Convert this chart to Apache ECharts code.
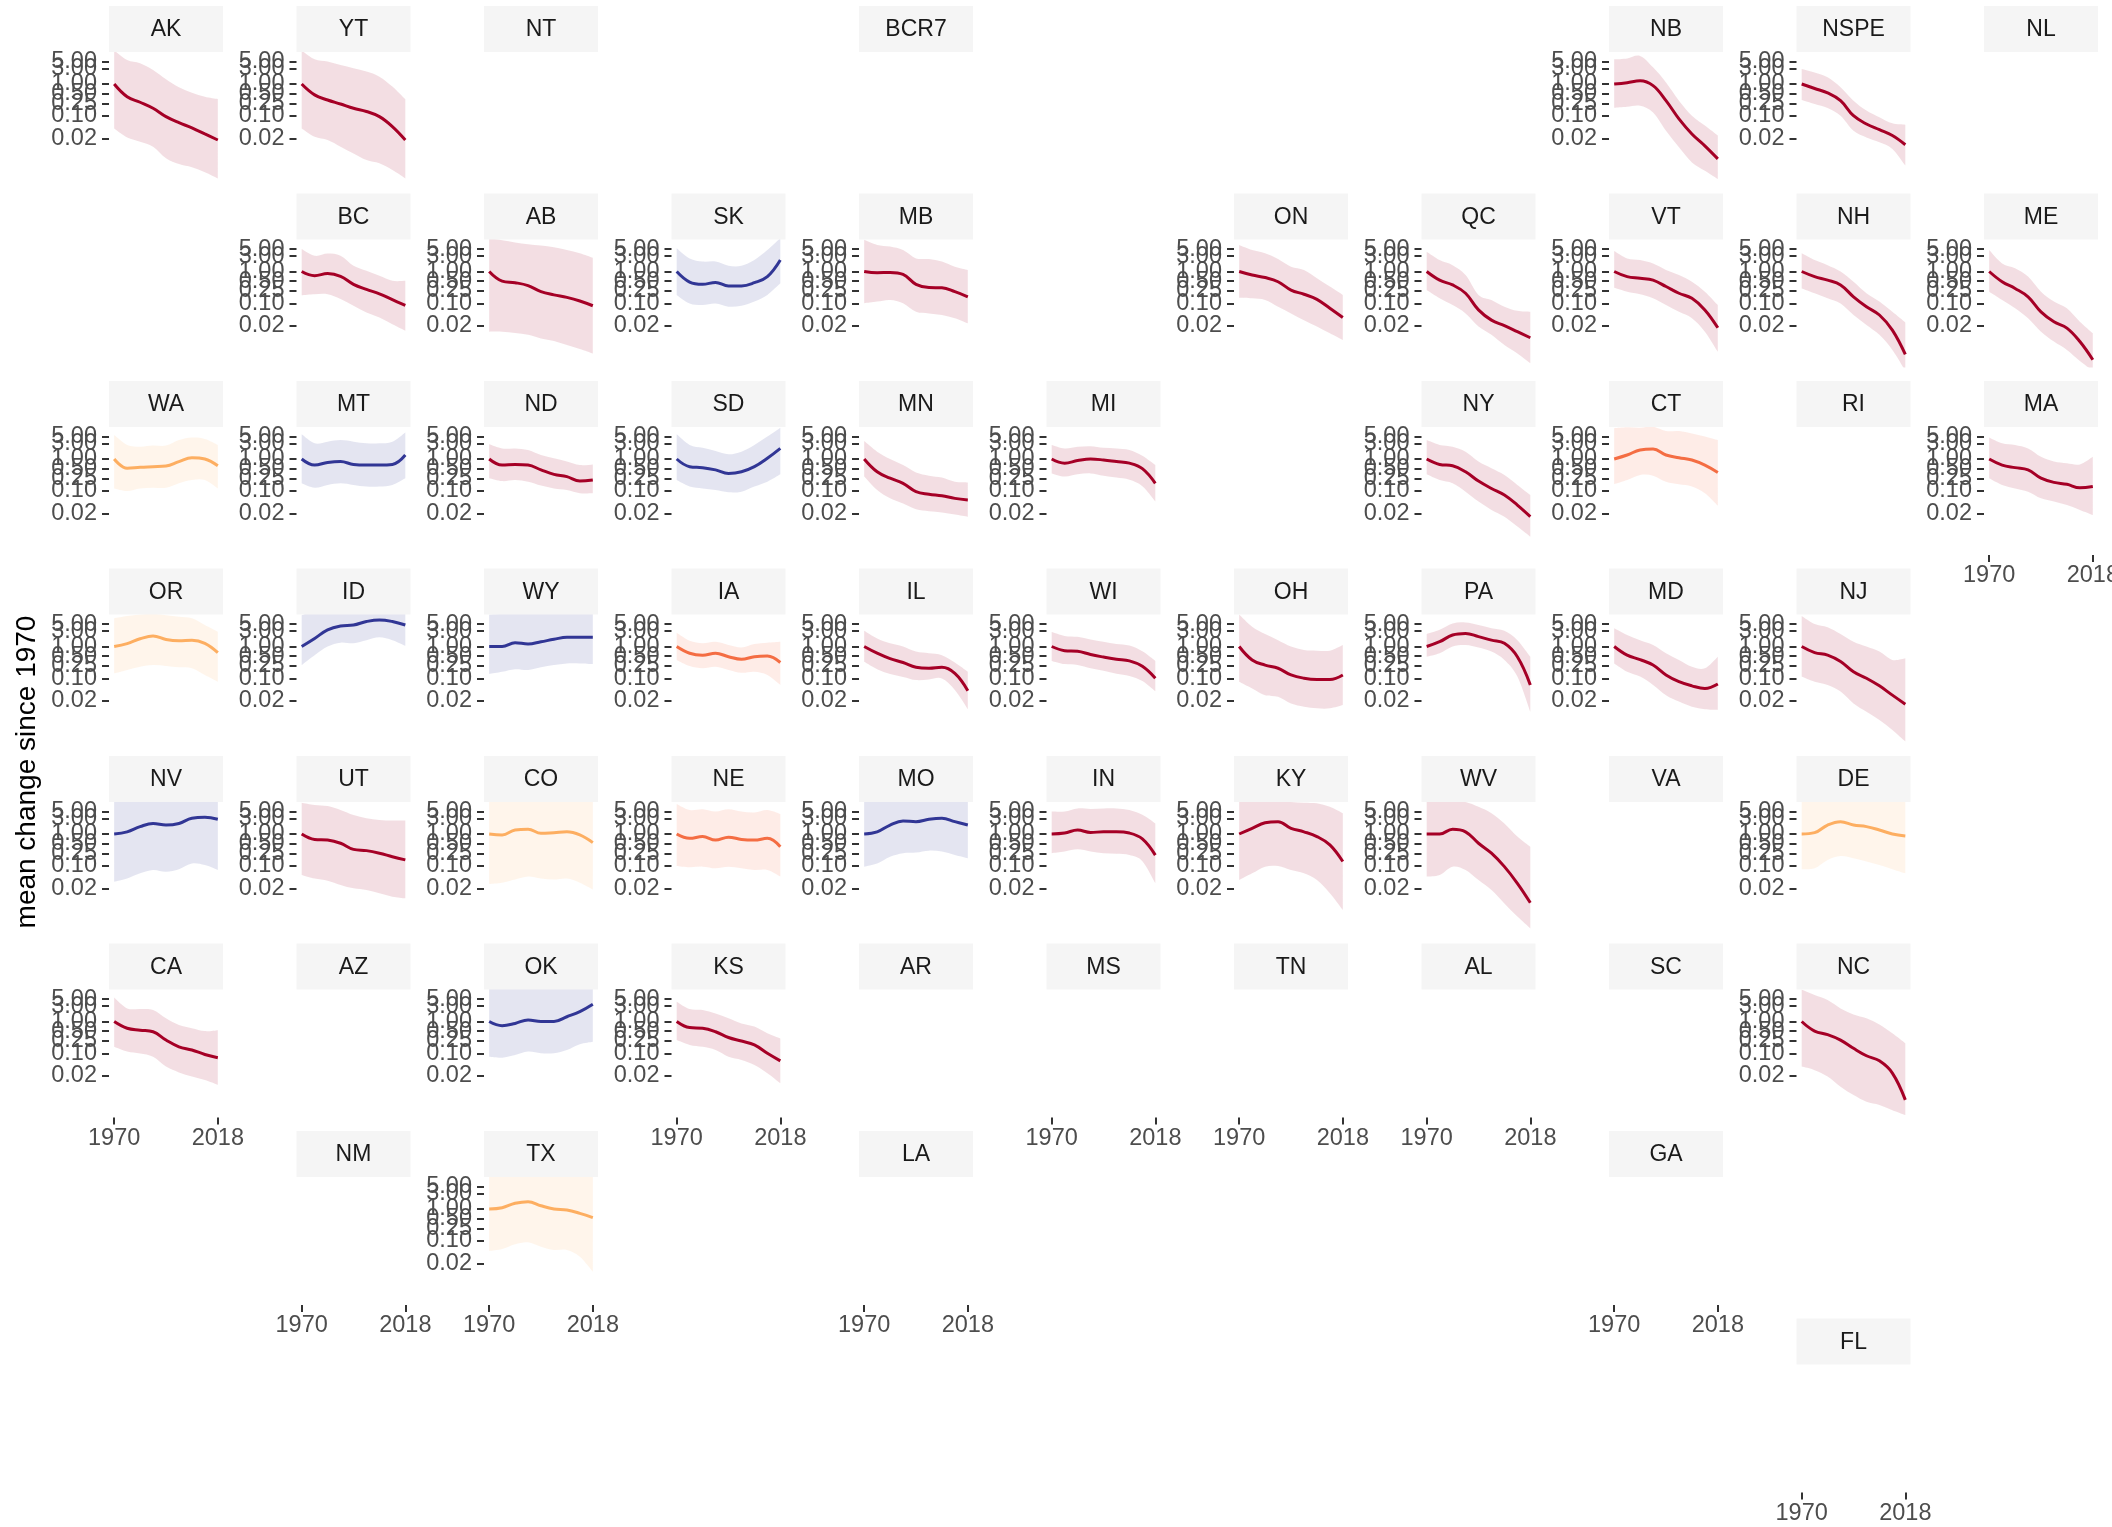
<!DOCTYPE html>
<html>
<head>
<meta charset="utf-8">
<script src="https://cdn.jsdelivr.net/npm/echarts@6/dist/echarts.min.js"></script>
<style>
  html, body { margin: 0; padding: 0; background: #ffffff; }
  #chart { width: 2112px; height: 1527px; }
</style>
</head>
<body>
<div id="chart"></div>
<script>
// Sample years for the smoothed trends
const years = [1970, 1976, 1982, 1988, 1994, 2000, 2006, 2012, 2018];
const yBreaks = [0.02, 0.1, 0.25, 0.5, 1, 3, 5];
const xBreaks = [1970, 2018];
const yTitle = 'mean change since 1970';

// Geographic tile grid: [code, row, col]
const tiles = [
  ['AK',0,0],['YT',0,1],['NT',0,2],['BCR7',0,4],['NB',0,8],['NSPE',0,9],['NL',0,10],
  ['BC',1,1],['AB',1,2],['SK',1,3],['MB',1,4],['ON',1,6],['QC',1,7],['VT',1,8],['NH',1,9],['ME',1,10],
  ['WA',2,0],['MT',2,1],['ND',2,2],['SD',2,3],['MN',2,4],['MI',2,5],['NY',2,7],['CT',2,8],['RI',2,9],['MA',2,10],
  ['OR',3,0],['ID',3,1],['WY',3,2],['IA',3,3],['IL',3,4],['WI',3,5],['OH',3,6],['PA',3,7],['MD',3,8],['NJ',3,9],
  ['NV',4,0],['UT',4,1],['CO',4,2],['NE',4,3],['MO',4,4],['IN',4,5],['KY',4,6],['WV',4,7],['VA',4,8],['DE',4,9],
  ['CA',5,0],['AZ',5,1],['OK',5,2],['KS',5,3],['AR',5,4],['MS',5,5],['TN',5,6],['AL',5,7],['SC',5,8],['NC',5,9],
  ['NM',6,1],['TX',6,2],['LA',6,4],['GA',6,8],
  ['FL',7,9]
];

// Trend groups (line colour)
const strongDecline = ['AK','YT','NB','NSPE','BC','AB','MB','ON','QC','VT','NH','ME','ND','MN','MI','NY','MA',
  'IL','WI','OH','PA','MD','NJ','UT','IN','KY','WV','CA','KS','NC'];
const moderateDecline = ['CT','IA','NE'];
const stable = ['WA','OR','CO','DE','TX'];
const increasing = ['SK','MT','SD','ID','WY','NV','MO','OK'];

// Mean change with lower / upper interval bounds
const AK_mean = [1, 0.40, 0.269, 0.174, 0.0955, 0.0617, 0.0427, 0.0275, 0.0178];
const AK_lo = [0.0407, 0.0214, 0.0158, 0.011, 0.00479, 0.00316, 0.00251, 0.00174, 0.00112];
const AK_hi = [11.2, 5.62, 4.47, 2.75, 1.41, 0.794, 0.537, 0.398, 0.339];

const YT_mean = [1, 0.457, 0.316, 0.237, 0.174, 0.138, 0.0955, 0.0468, 0.0178];
const YT_lo = [0.0407, 0.0224, 0.0178, 0.011, 0.00676, 0.00422, 0.00331, 0.00204, 0.00112];
const YT_hi = [11.2, 5.89, 5.01, 3.89, 3.09, 2.45, 1.70, 0.832, 0.331];

const NB_mean = [1, 1.10, 1.26, 0.891, 0.302, 0.0813, 0.0275, 0.0117, 0.00457];
const NB_lo = [0.182, 0.195, 0.209, 0.129, 0.0347, 0.0105, 0.00355, 0.00195, 0.00107];
const NB_hi = [5.89, 6.31, 7.50, 3.31, 1.12, 0.302, 0.102, 0.0501, 0.0245];

const NSPE_mean = [1, 0.724, 0.525, 0.302, 0.102, 0.0562, 0.0372, 0.0245, 0.0126];
const NSPE_lo = [0.316, 0.237, 0.178, 0.102, 0.0347, 0.0214, 0.0151, 0.00933, 0.00282];
const NSPE_hi = [2.95, 2.29, 1.62, 0.794, 0.302, 0.148, 0.0912, 0.0589, 0.0537];

const BC_mean = [1, 0.741, 0.861, 0.708, 0.398, 0.275, 0.200, 0.132, 0.0871];
const BC_lo = [0.182, 0.195, 0.195, 0.138, 0.0851, 0.0525, 0.0363, 0.0224, 0.0141];
const BC_hi = [5.01, 3.09, 3.63, 3.09, 1.51, 1.05, 0.733, 0.513, 0.513];

const AB_mean = [1, 0.501, 0.447, 0.363, 0.234, 0.186, 0.155, 0.120, 0.0851];
const AB_lo = [0.0132, 0.0132, 0.012, 0.0105, 0.00813, 0.00676, 0.00501, 0.0038, 0.00275];
const AB_hi = [11.0, 9.55, 8.13, 7.08, 6.46, 5.75, 4.68, 3.72, 2.69];

const SK_mean = [1, 0.468, 0.398, 0.457, 0.355, 0.355, 0.447, 0.692, 2.29];
const SK_lo = [0.186, 0.100, 0.0891, 0.100, 0.0794, 0.0851, 0.115, 0.186, 0.427];
const SK_hi = [5.37, 2.57, 2.04, 2.04, 1.51, 1.51, 2.29, 4.68, 11.0];

const MB_mean = [1, 0.912, 0.933, 0.813, 0.398, 0.316, 0.309, 0.234, 0.162];
const MB_lo = [0.102, 0.115, 0.129, 0.102, 0.055, 0.049, 0.0437, 0.0347, 0.024];
const MB_hi = [9.77, 6.76, 6.03, 4.68, 2.57, 2.45, 2.04, 1.41, 1.12];

const ON_mean = [1, 0.776, 0.646, 0.479, 0.263, 0.195, 0.135, 0.0708, 0.0363];
const ON_lo = [0.151, 0.145, 0.129, 0.0794, 0.049, 0.0302, 0.0191, 0.0117, 0.00724];
const ON_hi = [6.76, 4.68, 3.72, 2.45, 1.41, 1.12, 0.617, 0.339, 0.186];

const QC_mean = [1, 0.537, 0.380, 0.209, 0.0631, 0.0302, 0.0204, 0.0132, 0.00851];
const QC_lo = [0.263, 0.145, 0.0891, 0.049, 0.0191, 0.0105, 0.00501, 0.00275, 0.00135];
const QC_hi = [4.17, 2.29, 1.58, 0.776, 0.186, 0.129, 0.0794, 0.0589, 0.055];

const VT_mean = [1, 0.692, 0.617, 0.537, 0.339, 0.209, 0.145, 0.0631, 0.0174];
const VT_lo = [0.309, 0.234, 0.195, 0.145, 0.0891, 0.055, 0.0347, 0.0132, 0.00309];
const VT_hi = [4.37, 2.57, 2.29, 1.78, 1.12, 0.776, 0.479, 0.234, 0.0891];

const NH_mean = [1, 0.692, 0.537, 0.380, 0.162, 0.0794, 0.0437, 0.0148, 0.00257];
const NH_lo = [0.295, 0.209, 0.145, 0.1, 0.0437, 0.0214, 0.0105, 0.00355, 0.0008];
const NH_hi = [3.72, 2.29, 1.58, 1.0, 0.479, 0.209, 0.115, 0.055, 0.0257];

const ME_mean = [1, 0.479, 0.295, 0.162, 0.055, 0.0269, 0.017, 0.00646, 0.00174];
const ME_lo = [0.234, 0.129, 0.0708, 0.0347, 0.0132, 0.00646, 0.00355, 0.0016, 0.0008];
const ME_hi = [4.68, 1.78, 1.26, 0.692, 0.234, 0.115, 0.0708, 0.0269, 0.0117];

const WA_mean = [1, 0.513, 0.550, 0.575, 0.603, 0.832, 1.10, 1.0, 0.617];
const WA_lo = [0.120, 0.100, 0.120, 0.126, 0.126, 0.174, 0.219, 0.219, 0.120];
const WA_hi = [5.62, 2.75, 2.43, 2.63, 2.63, 3.89, 4.68, 4.22, 2.75];

const MT_mean = [1, 0.646, 0.776, 0.832, 0.676, 0.646, 0.646, 0.676, 1.33];
const MT_lo = [0.174, 0.126, 0.155, 0.174, 0.155, 0.138, 0.138, 0.155, 0.251];
const MT_hi = [5.89, 3.09, 3.47, 3.89, 3.47, 3.09, 3.09, 3.47, 6.76];

const ND_mean = [1, 0.646, 0.676, 0.646, 0.457, 0.331, 0.282, 0.204, 0.219];
const ND_lo = [0.251, 0.204, 0.219, 0.195, 0.148, 0.120, 0.107, 0.0851, 0.0851];
const ND_hi = [2.88, 2.14, 2.14, 1.91, 1.33, 1.05, 0.832, 0.646, 0.676];

const SD_mean = [1, 0.575, 0.537, 0.457, 0.355, 0.398, 0.575, 1.05, 2.14];
const SD_lo = [0.219, 0.138, 0.120, 0.107, 0.0912, 0.0955, 0.138, 0.195, 0.331];
const SD_hi = [5.89, 2.75, 2.24, 1.78, 1.41, 1.70, 2.75, 5.01, 9.55];

const MN_mean = [1, 0.398, 0.251, 0.174, 0.0955, 0.0794, 0.0708, 0.0589, 0.0525];
const MN_lo = [0.282, 0.107, 0.0589, 0.0407, 0.0269, 0.0234, 0.0214, 0.0186, 0.0158];
const MN_hi = [3.63, 1.70, 1.0, 0.646, 0.380, 0.302, 0.263, 0.195, 0.186];

const MI_mean = [1, 0.741, 0.891, 1.0, 0.933, 0.832, 0.741, 0.501, 0.174];
const MI_lo = [0.355, 0.282, 0.331, 0.355, 0.302, 0.263, 0.224, 0.141, 0.0468];
const MI_hi = [2.75, 2.14, 2.40, 2.51, 2.24, 2.14, 1.91, 1.26, 0.646];

const NY_mean = [1, 0.676, 0.617, 0.398, 0.204, 0.120, 0.075, 0.0363, 0.0158];
const NY_lo = [0.331, 0.219, 0.174, 0.0955, 0.0468, 0.0257, 0.0158, 0.00776, 0.00372];
const NY_hi = [3.89, 2.75, 2.43, 1.70, 0.832, 0.513, 0.316, 0.155, 0.075];

const CT_mean = [1, 1.33, 1.91, 2.04, 1.33, 1.10, 0.933, 0.646, 0.380];
const CT_lo = [0.162, 0.219, 0.316, 0.302, 0.195, 0.162, 0.138, 0.0851, 0.0347];
const CT_hi = [9.12, 9.77, 9.55, 10.2, 7.50, 7.50, 6.31, 5.01, 3.89];

const MA_mean = [1, 0.646, 0.537, 0.457, 0.251, 0.186, 0.162, 0.126, 0.138];
const MA_lo = [0.251, 0.155, 0.120, 0.0955, 0.0589, 0.0468, 0.0363, 0.0257, 0.0178];
const MA_hi = [4.68, 3.09, 2.75, 2.14, 1.17, 0.832, 0.733, 0.676, 1.17];

const OR_mean = [1, 1.23, 1.74, 2.14, 1.66, 1.51, 1.58, 1.26, 0.646];
const OR_lo = [0.145, 0.186, 0.234, 0.263, 0.245, 0.224, 0.209, 0.129, 0.0794];
const OR_hi = [7.59, 8.91, 10, 10.5, 9.55, 8.51, 7.59, 4.68, 2.88];

const ID_mean = [1, 1.78, 3.31, 4.37, 4.68, 6.03, 6.76, 6.03, 4.68];
const ID_lo = [0.263, 0.537, 1.0, 1.32, 1.26, 1.58, 1.95, 1.58, 1.05];
const ID_hi = [9.55, 12.6, 12.6, 12.6, 12.6, 12.6, 12.6, 12.6, 12.6];

const WY_mean = [1, 1.0, 1.32, 1.20, 1.41, 1.68, 1.95, 1.95, 1.95];
const WY_lo = [0.138, 0.162, 0.195, 0.186, 0.224, 0.263, 0.295, 0.295, 0.282];
const WY_hi = [10, 10.5, 11.2, 11.2, 11.2, 11.2, 11.2, 11.2, 11.2];

const IA_mean = [1, 0.617, 0.537, 0.617, 0.479, 0.398, 0.479, 0.501, 0.316];
const IA_lo = [0.380, 0.245, 0.209, 0.234, 0.186, 0.151, 0.162, 0.129, 0.0631];
const IA_hi = [2.69, 1.51, 1.26, 1.41, 1.12, 0.933, 1.20, 1.32, 1.41];

const IL_mean = [1, 0.617, 0.417, 0.316, 0.224, 0.209, 0.224, 0.145, 0.0417];
const IL_lo = [0.331, 0.195, 0.138, 0.112, 0.0891, 0.0933, 0.1, 0.0437, 0.011];
const IL_hi = [3.09, 1.78, 1.26, 1.0, 0.692, 0.617, 0.537, 0.316, 0.162];

const WI_mean = [1, 0.741, 0.708, 0.562, 0.468, 0.398, 0.355, 0.240, 0.102];
const WI_lo = [0.355, 0.282, 0.263, 0.209, 0.174, 0.141, 0.120, 0.0832, 0.0398];
const WI_hi = [2.82, 2.14, 2.0, 1.66, 1.41, 1.20, 1.07, 0.708, 0.355];

const OH_mean = [1, 0.380, 0.263, 0.209, 0.129, 0.102, 0.0933, 0.0933, 0.129];
const OH_lo = [0.0794, 0.049, 0.0302, 0.0269, 0.0166, 0.0132, 0.0117, 0.0117, 0.0148];
const OH_hi = [10, 4.17, 2.45, 1.58, 1.0, 0.776, 0.741, 0.741, 1.12];

const PA_mean = [1, 1.41, 2.29, 2.57, 2.04, 1.58, 1.26, 0.479, 0.0631];
const PA_lo = [0.479, 0.617, 1.0, 1.12, 0.933, 0.692, 0.380, 0.115, 0.00912];
const PA_hi = [2.45, 3.31, 5.25, 5.62, 4.68, 3.72, 3.09, 1.58, 0.479];

const MD_mean = [1, 0.537, 0.389, 0.263, 0.129, 0.0794, 0.0589, 0.049, 0.0676];
const MD_lo = [0.295, 0.162, 0.115, 0.0631, 0.0302, 0.0191, 0.0132, 0.011, 0.0105];
const MD_hi = [3.72, 2.29, 1.58, 1.12, 0.617, 0.380, 0.234, 0.209, 0.479];

const NJ_mean = [1, 0.646, 0.537, 0.339, 0.162, 0.102, 0.0589, 0.0302, 0.0158];
const NJ_lo = [0.115, 0.0794, 0.0631, 0.0389, 0.0166, 0.00912, 0.00501, 0.00245, 0.00107];
const NJ_hi = [8.91, 5.01, 3.98, 2.45, 1.41, 1.0, 0.692, 0.380, 0.427];

const NV_mean = [1, 1.17, 1.70, 2.14, 1.91, 2.14, 3.09, 3.31, 2.88];
const NV_lo = [0.0324, 0.0407, 0.0589, 0.075, 0.0661, 0.0794, 0.120, 0.107, 0.075];
const NV_hi = [10, 10.5, 11.2, 11.2, 11.2, 11.2, 11.2, 11.2, 11.2];

const UT_mean = [1, 0.676, 0.646, 0.513, 0.331, 0.302, 0.251, 0.195, 0.155];
const UT_lo = [0.0525, 0.0407, 0.0347, 0.0257, 0.02, 0.0178, 0.0141, 0.011, 0.00977];
const UT_hi = [9.55, 8.13, 7.50, 5.62, 3.89, 3.09, 2.75, 2.63, 2.63];

const CO_mean = [1, 0.933, 1.33, 1.41, 1.05, 1.10, 1.17, 0.933, 0.537];
const CO_lo = [0.0275, 0.0302, 0.038, 0.0468, 0.0407, 0.038, 0.0407, 0.0302, 0.0186];
const CO_hi = [11.2, 11.2, 11.2, 11.2, 11.2, 11.2, 11.2, 11.2, 11.2];

const NE_mean = [1, 0.733, 0.832, 0.646, 0.794, 0.676, 0.646, 0.733, 0.398];
const NE_lo = [0.1, 0.0912, 0.0955, 0.0851, 0.0955, 0.0851, 0.075, 0.075, 0.0468];
const NE_hi = [8.71, 5.62, 5.89, 5.01, 5.89, 5.01, 4.68, 5.62, 4.22];

const MO_mean = [1, 1.17, 1.91, 2.57, 2.43, 2.88, 3.09, 2.43, 1.91];
const MO_lo = [0.0955, 0.120, 0.195, 0.251, 0.263, 0.302, 0.282, 0.219, 0.174];
const MO_hi = [11.2, 11.2, 11.2, 11.2, 11.2, 11.2, 11.2, 11.2, 11.2];

const IN_mean = [1, 1.07, 1.33, 1.12, 1.17, 1.17, 1.07, 0.708, 0.219];
const IN_lo = [0.251, 0.282, 0.331, 0.282, 0.251, 0.240, 0.219, 0.141, 0.0288];
const IN_hi = [5.01, 5.01, 6.31, 6.03, 6.31, 6.31, 5.62, 3.98, 2.14];

const KY_mean = [1, 1.51, 2.24, 2.43, 1.51, 1.17, 0.832, 0.457, 0.138];
const KY_lo = [0.0363, 0.0589, 0.0955, 0.1, 0.075, 0.0589, 0.0363, 0.0141, 0.00422];
const KY_hi = [11.2, 11.2, 11.2, 11.2, 10, 9.55, 9.12, 7.08, 4.47];

const WV_mean = [1, 1, 1.41, 1.17, 0.513, 0.251, 0.0955, 0.0288, 0.00708];
const WV_lo = [0.0468, 0.0525, 0.0955, 0.075, 0.0363, 0.0178, 0.00676, 0.00263, 0.00112];
const WV_hi = [11.2, 11.2, 11.2, 10, 7.08, 4.47, 2.14, 0.832, 0.398];

const DE_mean = [1, 1.10, 1.91, 2.43, 1.91, 1.70, 1.33, 1.0, 0.871];
const DE_lo = [0.0794, 0.0851, 0.155, 0.204, 0.174, 0.138, 0.107, 0.0794, 0.0589];
const DE_hi = [11.2, 11.2, 11.2, 11.2, 11.2, 11.2, 11.2, 11.2, 11.2];

const CA_mean = [1, 0.617, 0.537, 0.479, 0.263, 0.162, 0.129, 0.0933, 0.0741];
const CA_lo = [0.162, 0.115, 0.1, 0.0794, 0.0389, 0.0257, 0.0191, 0.0148, 0.0105];
const CA_hi = [5.62, 2.57, 2.45, 2.29, 1.26, 0.776, 0.617, 0.501, 0.537];

const OK_mean = [1, 0.741, 0.871, 1.12, 1.0, 1.0, 1.41, 2.04, 3.47];
const OK_lo = [0.0794, 0.0741, 0.0891, 0.115, 0.102, 0.102, 0.129, 0.195, 0.234];
const OK_hi = [11.2, 11.2, 11.2, 11.2, 11.2, 11.2, 11.2, 11.2, 11.2];

const KS_mean = [1, 0.646, 0.617, 0.479, 0.316, 0.245, 0.186, 0.102, 0.0589];
const KS_lo = [0.263, 0.186, 0.162, 0.129, 0.0794, 0.0631, 0.0437, 0.024, 0.0117];
const KS_hi = [4.17, 2.45, 2.29, 1.78, 1.26, 0.871, 0.692, 0.427, 0.295];

const NC_mean = [1, 0.501, 0.389, 0.263, 0.145, 0.0851, 0.0589, 0.0245, 0.00355];
const NC_lo = [0.0389, 0.0302, 0.0191, 0.00912, 0.00501, 0.00309, 0.00245, 0.0017, 0.0012];
const NC_hi = [10, 6.76, 4.68, 2.57, 1.66, 1.26, 0.813, 0.427, 0.209];

const TX_mean = [1, 1.10, 1.51, 1.70, 1.26, 1.0, 0.933, 0.733, 0.537];
const TX_lo = [0.049, 0.0562, 0.0794, 0.0912, 0.0661, 0.0525, 0.0525, 0.0324, 0.011];
const TX_hi = [11.2, 11.2, 11.2, 11.2, 11.2, 11.2, 11.2, 11.2, 11.2];

// Lookup: code -> [mean, lower, upper]
const trends = {
  AK: [AK_mean, AK_lo, AK_hi], YT: [YT_mean, YT_lo, YT_hi], NB: [NB_mean, NB_lo, NB_hi],
  NSPE: [NSPE_mean, NSPE_lo, NSPE_hi], BC: [BC_mean, BC_lo, BC_hi], AB: [AB_mean, AB_lo, AB_hi],
  SK: [SK_mean, SK_lo, SK_hi], MB: [MB_mean, MB_lo, MB_hi], ON: [ON_mean, ON_lo, ON_hi],
  QC: [QC_mean, QC_lo, QC_hi], VT: [VT_mean, VT_lo, VT_hi], NH: [NH_mean, NH_lo, NH_hi],
  ME: [ME_mean, ME_lo, ME_hi], WA: [WA_mean, WA_lo, WA_hi], MT: [MT_mean, MT_lo, MT_hi],
  ND: [ND_mean, ND_lo, ND_hi], SD: [SD_mean, SD_lo, SD_hi], MN: [MN_mean, MN_lo, MN_hi],
  MI: [MI_mean, MI_lo, MI_hi], NY: [NY_mean, NY_lo, NY_hi], CT: [CT_mean, CT_lo, CT_hi],
  MA: [MA_mean, MA_lo, MA_hi], OR: [OR_mean, OR_lo, OR_hi], ID: [ID_mean, ID_lo, ID_hi],
  WY: [WY_mean, WY_lo, WY_hi], IA: [IA_mean, IA_lo, IA_hi], IL: [IL_mean, IL_lo, IL_hi],
  WI: [WI_mean, WI_lo, WI_hi], OH: [OH_mean, OH_lo, OH_hi], PA: [PA_mean, PA_lo, PA_hi],
  MD: [MD_mean, MD_lo, MD_hi], NJ: [NJ_mean, NJ_lo, NJ_hi], NV: [NV_mean, NV_lo, NV_hi],
  UT: [UT_mean, UT_lo, UT_hi], CO: [CO_mean, CO_lo, CO_hi], NE: [NE_mean, NE_lo, NE_hi],
  MO: [MO_mean, MO_lo, MO_hi], IN: [IN_mean, IN_lo, IN_hi], KY: [KY_mean, KY_lo, KY_hi],
  WV: [WV_mean, WV_lo, WV_hi], DE: [DE_mean, DE_lo, DE_hi], CA: [CA_mean, CA_lo, CA_hi],
  OK: [OK_mean, OK_lo, OK_hi], KS: [KS_mean, KS_lo, KS_hi], NC: [NC_mean, NC_lo, NC_hi],
  TX: [TX_mean, TX_lo, TX_hi]
};

function colourFor(code) {
  if (increasing.includes(code)) return '#313695';
  if (stable.includes(code)) return '#FDAE61';
  if (moderateDecline.includes(code)) return '#F46D43';
  return '#A50026';
}

// Layout of the tile grid (pixels)
const FONT = '"Liberation Sans", Arial, Helvetica, sans-serif';
const CELL = 187.5, LEFT0 = 109, TOP0 = 6;
const PANEL_W = 114, STRIP_H = 46, PANEL_H = 128;
const TICK_FONT = 23.5;

// Tick labels overlap on purpose; they are spread over three left-hand axes so
// that none of them is dropped by the min/max label check.
const yBreakGroups = [[0.02, 0.25, 3], [0.1, 1], [0.5, 5]];

// the lowest tile in each column carries the year axis
const bottomRow = {};
tiles.forEach(([code, r, c]) => { if (bottomRow[c] === undefined || r > bottomRow[c]) bottomRow[c] = r; });

// Smooth closed outline through the upper bound, then back along the lower bound
function curveTo(pts) {
  let d = '';
  for (let i = 0; i < pts.length - 1; i++) {
    const p0 = pts[Math.max(i - 1, 0)], p1 = pts[i], p2 = pts[i + 1], p3 = pts[Math.min(i + 2, pts.length - 1)];
    const c1x = p1[0] + (p2[0] - p0[0]) / 6, c1y = p1[1] + (p2[1] - p0[1]) / 6;
    const c2x = p2[0] - (p3[0] - p1[0]) / 6, c2y = p2[1] - (p3[1] - p1[1]) / 6;
    d += ' C' + c1x + ' ' + c1y + ' ' + c2x + ' ' + c2y + ' ' + p2[0] + ' ' + p2[1];
  }
  return d;
}
function bandRenderer(lo, hi, colour) {
  return function (params, api) {
    const up = years.map((y, k) => api.coord([y, hi[k]]));
    const dn = years.map((y, k) => api.coord([y, lo[k]])).reverse();
    const d = 'M' + up[0][0] + ' ' + up[0][1] + curveTo(up) +
      ' L' + dn[0][0] + ' ' + dn[0][1] + curveTo(dn) + ' Z';
    return { type: 'path', shape: { pathData: d }, style: { fill: colour, opacity: 0.13, stroke: null } };
  };
}

const option = {
  animation: false,
  backgroundColor: '#ffffff',
  grid: [], xAxis: [], yAxis: [], series: [], graphic: []
};

let gi = 0, yi = 0;
tiles.forEach(([code, r, c]) => {
  const x0 = LEFT0 + c * CELL;
  const y0 = TOP0 + r * CELL;

  // strip with the region code
  option.graphic.push({
    type: 'rect', silent: true,
    shape: { x: x0, y: y0, width: PANEL_W, height: STRIP_H },
    style: { fill: '#F5F5F5' }
  });
  option.graphic.push({
    type: 'text', silent: true,
    x: x0 + PANEL_W / 2, y: y0 + STRIP_H / 2 + 1,
    style: { text: code, align: 'center', verticalAlign: 'middle', fontSize: 23, fontFamily: FONT, fill: '#1A1A1A' }
  });

  const data = trends[code];
  const showX = bottomRow[c] === r;
  if (!data && !showX) return;

  option.grid.push({
    left: x0, top: y0 + STRIP_H, width: PANEL_W, height: PANEL_H,
    containLabel: false, outerBoundsMode: 'none', show: false
  });
  option.xAxis.push({
    gridIndex: gi, type: 'value', position: 'bottom', min: 1967.6, max: 2020.4,
    axisLine: { show: false }, splitLine: { show: false },
    axisTick: { show: showX, length: 7, customValues: xBreaks, lineStyle: { color: '#333333', width: 2 } },
    axisLabel: {
      show: showX, customValues: xBreaks, margin: 9, fontSize: TICK_FONT, fontFamily: FONT, color: '#4D4D4D',
      showMinLabel: true, showMaxLabel: true, hideOverlap: false,
      formatter: v => String(Math.round(v))
    }
  });
  const mainY = yi;
  yBreakGroups.forEach(group => {
    option.yAxis.push({
      gridIndex: gi, type: 'log', logBase: 10, min: 0.001, max: 10,
      position: 'left', offset: 0,
      axisLine: { show: false }, splitLine: { show: false },
      axisTick: { show: !!data, length: 7, customValues: group, lineStyle: { color: '#333333', width: 2 } },
      axisLabel: {
        show: !!data, customValues: group, margin: 12, fontSize: TICK_FONT, fontFamily: FONT, color: '#4D4D4D',
        showMinLabel: true, showMaxLabel: true, hideOverlap: false,
        formatter: v => Number(v).toFixed(2)
      }
    });
    yi++;
  });

  if (data) {
    const [mean, lo, hi] = data;
    const col = colourFor(code);
    option.series.push({
      type: 'custom', coordinateSystem: 'cartesian2d', xAxisIndex: gi, yAxisIndex: mainY,
      silent: true, clip: true,
      renderItem: bandRenderer(lo, hi, col),
      data: [[years[0], mean[0]]]
    });
    option.series.push({
      type: 'line', xAxisIndex: gi, yAxisIndex: mainY, silent: true,
      symbol: 'none', smooth: 0.4, clip: true,
      lineStyle: { color: col, width: 3 },
      data: years.map((y, k) => [y, mean[k]])
    });
  }
  gi++;
});

// shared y-axis title
option.graphic.push({
  type: 'text', silent: true,
  x: 27, y: 772, rotation: Math.PI / 2,
  style: { text: yTitle, align: 'center', verticalAlign: 'middle', fontSize: 28, fontFamily: FONT, fill: '#000000' }
});

const chart = echarts.init(document.getElementById('chart'), null, { renderer: 'canvas' });
chart.setOption(option);
</script>
</body>
</html>
